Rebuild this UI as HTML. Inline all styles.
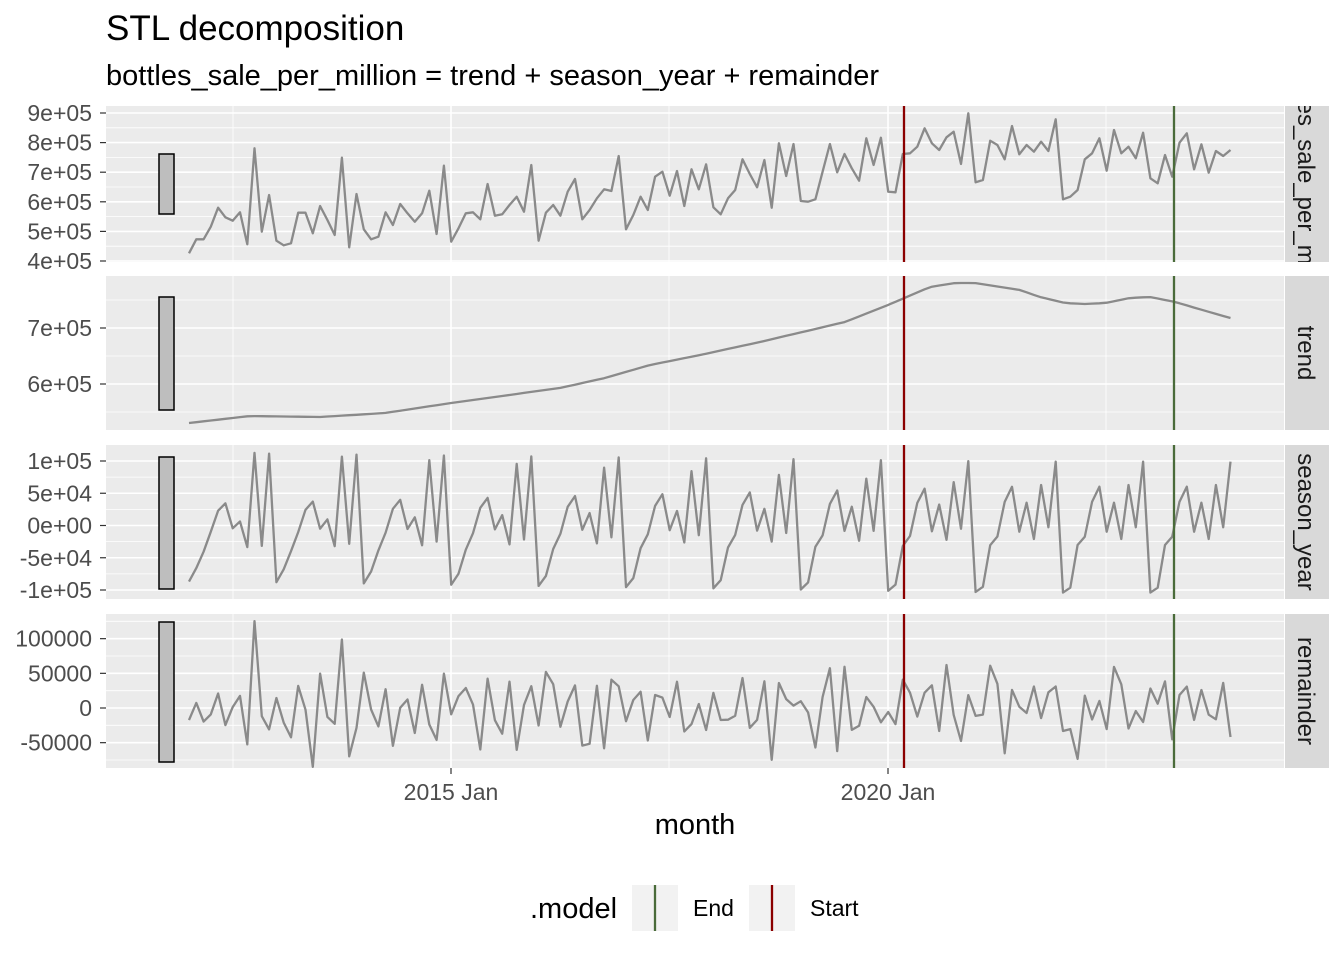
<!DOCTYPE html>
<html><head><meta charset="utf-8"><style>
html,body{margin:0;padding:0;background:#fff}
svg{display:block;font-family:"Liberation Sans",Arial,sans-serif}
</style></head><body>
<svg id="s" width="1344" height="960" xmlns="http://www.w3.org/2000/svg"></svg>
<script>
const NS="http://www.w3.org/2000/svg";
const S=document.getElementById('s');
function el(t,a,txt,par){const e=document.createElementNS(NS,t);for(const k in a)e.setAttribute(k,a[k]);if(txt!==undefined&&txt!==null)e.textContent=txt;(par||S).appendChild(e);return e;}
const X0=106,X1=1284;
const panels=[[106,262],[276,430],[445,599],[614,768]];
const z=[460,418,418,380,323,352,362,337,433,145,395,285,422,436,430,338,338,400,318,360,405,173,442,282,388,418,410,337,375,312,340,365,340,272,402,197,425,385,340,337,358,252,347,343,315,290,335,195,
422,338,315,347,275,237,358,330,295,268,273,168,388,345,290,330,230,215,287,213,318,208,268,193,322,343,295,270,178,222,262,180,323,130,228,132,303,305,298,215,132,217,162,205,242,115,195,113,
275,277,162,160,140,85,130,150,112,95,192,40,247,240,122,135,178,78,163,135,155,125,153,58,298,290,270,178,160,115,212,90,160,140,175,98,235,250,165,230,128,100,208,133,218,153,168,150];
const data=z.map(v=>9e5-((100+v/3)-113)/29.6*1e5);
const seasA=[-87000,-66000,-40600,-9600,23000,34400,-4300,5900,-33800,114000,-32800,112000];
const seasB=[-104000,-96400,-30200,-17300,36900,60200,-9600,35400,-20900,62800,-2800,99000];
const tp=[[189,423],[250,416],[320,417],[385,413],[451,403],[560,388],[605,378],[650,365],[700,355],[760,342],[845,322],[888,305],[930,287],[955,283],[975,283],[1020,290],[1040,297],[1065,303],[1085,304],[1105,303],[1130,298],[1150,297],[1175,302],[1230,318]];
function trendY(x){for(let i=0;i<tp.length-1;i++){if(x<=tp[i+1][0]){const t=(x-tp[i][0])/(tp[i+1][0]-tp[i][0]);return tp[i][1]+t*(tp[i+1][1]-tp[i][1]);}}return tp[tp.length-1][1];}
const xs=[],tr=[],se=[],re=[];
for(let k=0;k<144;k++){const x=189+k*7.2833;xs.push(x);const ty=trendY(x);const tv=7e5+(328-ty)/56*1e5;tr.push(tv);
 const f=Math.min(1,Math.max(0,(k-6)/108));const sv=seasA[k%12]*(1-f)+seasB[k%12]*f;se.push(sv);re.push(data[k]-tv-sv);}
const maps=[v=>113+(9e5-v)/1e5*29.6, v=>328+(7e5-v)/1e5*56, v=>525.5-v/1e5*64.5, v=>708-v/5e4*34.67];
const series=[data,tr,se,re];
const yt=[
 [[9e5,'9e+05'],[8e5,'8e+05'],[7e5,'7e+05'],[6e5,'6e+05'],[5e5,'5e+05'],[4e5,'4e+05']],
 [[7e5,'7e+05'],[6e5,'6e+05']],
 [[1e5,'1e+05'],[5e4,'5e+04'],[0,'0e+00'],[-5e4,'-5e+04'],[-1e5,'-1e+05']],
 [[1e5,'100000'],[5e4,'50000'],[0,'0'],[-5e4,'-50000']]];
const minor=[[8.5e5,7.5e5,6.5e5,5.5e5,4.5e5],[7.5e5,6.5e5,5.5e5],[7.5e4,2.5e4,-2.5e4,-7.5e4],[1.25e5,7.5e4,2.5e4,-2.5e4,-7.5e4]];
const bars=[[154,214],[297,410],[457,589],[622,762]];
const strips=['bottles_sale_per_million','trend','season_year','remainder'];
panels.forEach((p,i)=>{
 const [t,b]=p;
 el('rect',{x:X0,y:t,width:X1-X0,height:b-t,fill:'#EBEBEB'});
 const m=maps[i];
 minor[i].forEach(v=>{const y=m(v);if(y>t&&y<b)el('line',{x1:X0,x2:X1,y1:y,y2:y,stroke:'#fff','stroke-width':0.8});});
 [233,669,1106].forEach(x=>el('line',{x1:x,x2:x,y1:t,y2:b,stroke:'#fff','stroke-width':0.8}));
 yt[i].forEach(([v,l])=>{const y=m(v);el('line',{x1:X0,x2:X1,y1:y,y2:y,stroke:'#fff','stroke-width':1.6});
   el('line',{x1:100,x2:106,y1:y,y2:y,stroke:'#333','stroke-width':1.2});
   el('text',{x:92,y:y+8,'text-anchor':'end','font-size':'23px',fill:'#4D4D4D'},l);});
 [451,888].forEach(x=>el('line',{x1:x,x2:x,y1:t,y2:b,stroke:'#fff','stroke-width':1.6}));
 el('rect',{x:159,y:bars[i][0],width:15,height:bars[i][1]-bars[i][0],fill:'#BEBEBE',stroke:'#000','stroke-width':1.5});
 const pts=series[i].map((v,k)=>xs[k].toFixed(1)+','+m(v).toFixed(1)).join(' ');
 el('polyline',{points:pts,fill:'none',stroke:'#8A8A8A','stroke-width':2.3,'stroke-linejoin':'round'});
 el('line',{x1:904,x2:904,y1:t,y2:b,stroke:'#8B0000','stroke-width':2.3});
 el('line',{x1:1174,x2:1174,y1:t,y2:b,stroke:'#4A6B3A','stroke-width':2.3});
 const cid='c'+i;
 const cp=el('clipPath',{id:cid});el('rect',{x:1285,y:t,width:44,height:b-t},null,cp);
 el('rect',{x:1285,y:t,width:44,height:b-t,fill:'#D9D9D9'});
 const g=el('g',{'clip-path':`url(#${cid})`});
 const cy=(t+b)/2;
 el('text',{x:1298,y:cy,transform:`rotate(90 1298 ${cy})`,'text-anchor':'middle','font-size':'24px',fill:'#1A1A1A'},strips[i],g);
});
[[451,'2015 Jan'],[888,'2020 Jan']].forEach(([x,l])=>{el('line',{x1:x,x2:x,y1:768,y2:774,stroke:'#333','stroke-width':1.2});
 el('text',{x:x,y:800,'text-anchor':'middle','font-size':'23px',fill:'#4D4D4D'},l);});
el('text',{x:695,y:834,'text-anchor':'middle','font-size':'29px',fill:'#000'},'month');
el('text',{x:106,y:40,'font-size':'35px',fill:'#000'},'STL decomposition');
el('text',{x:106,y:85,'font-size':'29px',fill:'#000'},'bottles_sale_per_million = trend + season_year + remainder');
el('text',{x:530,y:918,'font-size':'29px',fill:'#000'},'.model');
el('rect',{x:632,y:885,width:46,height:46,fill:'#F2F2F2'});
el('line',{x1:655,x2:655,y1:885,y2:931,stroke:'#4A6B3A','stroke-width':2.3});
el('text',{x:693,y:916,'font-size':'23px',fill:'#000'},'End');
el('rect',{x:749,y:885,width:46,height:46,fill:'#F2F2F2'});
el('line',{x1:772,x2:772,y1:885,y2:931,stroke:'#8B0000','stroke-width':2.3});
el('text',{x:810,y:916,'font-size':'23px',fill:'#000'},'Start');
</script>
</body></html>
